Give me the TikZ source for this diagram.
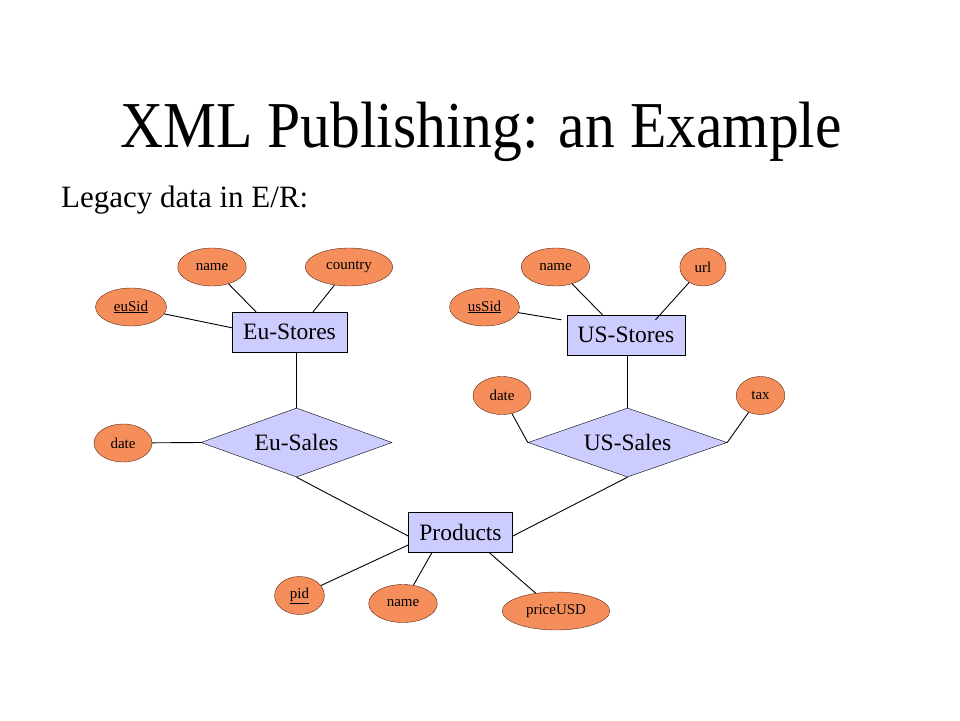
\documentclass[tikz,border=0pt]{standalone}
\usepackage{fontspec}
\setmainfont{Liberation Serif}
\newfontfamily\titlefont[FakeStretch=0.91]{Liberation Serif}
\usetikzlibrary{shapes,shapes.geometric,positioning}
\definecolor{attrfill}{RGB}{246,142,92}
\definecolor{attrline}{RGB}{90,40,20}
\definecolor{entfill}{RGB}{204,204,255}
\tikzset{
    entity/.style={draw, fill=entfill, minimum height=40pt, inner xsep=11pt,
    text centered, font=\fontsize{23.5}{26}\selectfont},
    relship/.style={diamond, draw, fill=entfill, aspect=2.8, minimum height=69pt, inner sep=0pt,
    font=\fontsize{23.5}{26}\selectfont},
    attrib/.style={ellipse, draw=attrline, fill=attrfill, minimum height=38pt,
    inner xsep=8pt, inner ysep=2pt, font=\fontsize{15}{17}\selectfont},
    link/.style={draw, line width=0.9pt}
}
\begin{document}
\begin{tikzpicture}[x=1pt,y=-1pt]
    \useasboundingbox (0,0) rectangle (960,720);
    \node[anchor=base, font=\titlefont\fontsize{65.5}{70}\selectfont] (title) at (481,147) {XML Publishing: an Example};
    \node[anchor=base west, inner sep=0pt, font=\fontsize{31}{34}\selectfont] (legacy) at (61,207) {Legacy data in E/R:};

    \node[entity] (eust) at (289.5,332) {Eu-Stores};
    \node[entity] (usst) at (626,335) {US-Stores};
    \node[entity] (prod) at (460.5,532) {Products};
    \node[relship, minimum width=191pt] (eusl) at (296.5,442.5) {Eu-Sales};
    \node[relship, minimum width=199pt] (ussl) at (627.5,442.5) {US-Sales};

    \node[attrib] (eunm) at (212,267) {name};
    \node[attrib] (euctry) at (349,267) {country};
    \node[attrib] (eusid) at (131,307) {\underline{euSid}};
    \node[attrib] (eudate) at (123,443) {date};
    \node[attrib] (usnm) at (555.5,267) {name};
    \node[attrib] (usurl) at (703,267) {url};
    \node[attrib] (ussid) at (484.5,307) {\underline{usSid}};
    \node[attrib] (usdate) at (502,395.5) {date};
    \node[attrib] (ustax) at (760.5,395.5) {tax};
    \node[attrib] (pid) at (299.5,595.5) {\underline{pid}};
    \node[attrib] (prnm) at (403,603.5) {name};
    \node[attrib] (price) at (556,611) {priceUSD};

    \draw[link] (eunm) -- ([xshift=24pt]eust.north west);
    \draw[link] (euctry) -- ([xshift=-34pt]eust.north east);
    \draw[link] (eusid) -- ([yshift=-16pt]eust.north west);
    \draw[link] (eusl.north |- eust.south) -- (eusl.north);
    \draw[link] (eudate) -- (eusl.west);
    \draw[link] (eusl.south) -- ([yshift=-4pt]prod.west);

    \draw[link] (usnm) -- ([xshift=36pt]usst.north west);
    \draw[link] (usurl) -- ([xshift=-30pt,yshift=-5pt]usst.north east);
    \draw[link] (ussid) -- ([xshift=-5pt,yshift=-5pt]usst.north west);
    \draw[link] (ussl.north |- usst.south) -- (ussl.north);
    \draw[link] (usdate) -- (ussl.west);
    \draw[link] (ustax) -- (ussl.east);
    \draw[link] (ussl.south) -- ([yshift=-4pt]prod.east);

    \draw[link] (pid) -- ([yshift=-13pt]prod.west);
    \draw[link] (prnm) -- ([xshift=24pt]prod.south west);
    \draw[link] (price) -- ([xshift=-24pt]prod.south east);
\end{tikzpicture}
\end{document}
